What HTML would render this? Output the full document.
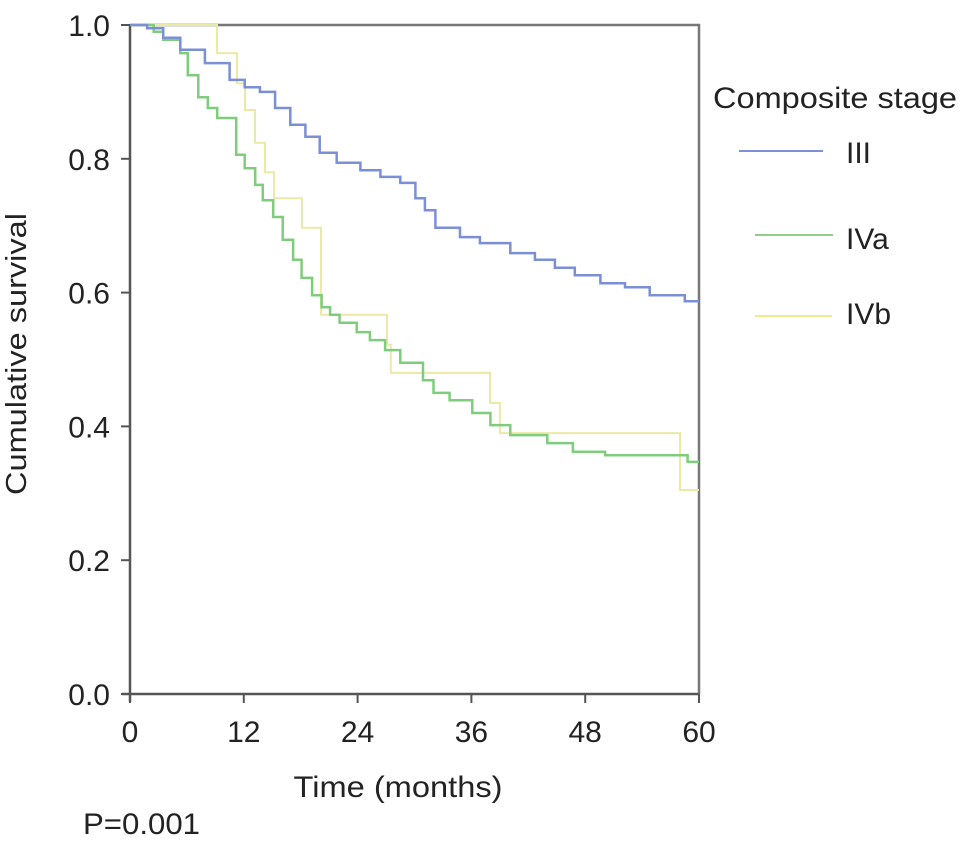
<!DOCTYPE html>
<html><head><meta charset="utf-8"><style>
html,body{margin:0;padding:0;background:#fff;}
svg{display:block;font-family:"Liberation Sans",Arial,sans-serif;}
</style></head><body>
<svg id="chart" width="969" height="845" viewBox="0 0 969 845">
<g id="axes"></g>
<g id="series"></g>
<text x="26" y="354" transform="rotate(-90 26 354)" text-anchor="middle" font-size="29" fill="#222" textLength="282" lengthAdjust="spacingAndGlyphs">Cumulative survival</text>
<text x="398" y="797" text-anchor="middle" font-size="30" fill="#222" textLength="209" lengthAdjust="spacingAndGlyphs">Time (months)</text>
<text x="83" y="834" font-size="30" fill="#222" textLength="117" lengthAdjust="spacingAndGlyphs">P=0.001</text>
<g>
<text x="713" y="108" font-size="30" fill="#222" textLength="244" lengthAdjust="spacingAndGlyphs">Composite stage</text>
<line x1="739" y1="151" x2="823" y2="151" stroke="#7d8fd8" stroke-width="2"/>
<text x="846" y="163" font-size="30" fill="#222">III</text>
<line x1="755" y1="235" x2="833" y2="235" stroke="#8fcf8a" stroke-width="2"/>
<text x="846" y="249" font-size="30" fill="#222">IVa</text>
<line x1="755" y1="316" x2="832" y2="316" stroke="#eeeb8a" stroke-width="2"/>
<text x="846" y="324" font-size="30" fill="#222">IVb</text>
</g>
</svg>
<script>
const xTicks = [0, 12, 24, 36, 48, 60];
const yTicks = [0.0, 0.2, 0.4, 0.6, 0.8, 1.0];
const timesIII = [1.8, 3.5, 5.3, 7.9, 10.5, 12.1, 13.7, 15.3, 16.9, 18.5, 20.0, 21.8, 24.3, 26.4, 28.5, 30.1, 31.1, 32.2, 34.8, 36.9, 40.1, 42.7, 44.8, 46.9, 49.6, 52.2, 54.8, 58.5];
const survIII = [0.995, 0.981, 0.963, 0.943, 0.918, 0.907, 0.900, 0.876, 0.851, 0.833, 0.809, 0.794, 0.783, 0.773, 0.764, 0.741, 0.723, 0.697, 0.683, 0.674, 0.659, 0.649, 0.637, 0.626, 0.614, 0.608, 0.596, 0.587];
const timesIVa = [2.5, 3.5, 5.3, 6.1, 7.2, 8.2, 9.2, 11.2, 12.1, 13.2, 14.0, 15.1, 16.1, 17.2, 18.1, 19.2, 20.2, 21.1, 22.1, 23.9, 25.3, 26.9, 28.5, 30.9, 32.0, 33.7, 36.1, 38.0, 40.1, 44.0, 46.7, 50.1, 58.8];
const survIVa = [0.99, 0.978, 0.958, 0.925, 0.892, 0.876, 0.861, 0.806, 0.786, 0.761, 0.738, 0.713, 0.679, 0.649, 0.622, 0.596, 0.578, 0.567, 0.555, 0.541, 0.529, 0.514, 0.495, 0.469, 0.450, 0.439, 0.420, 0.402, 0.387, 0.375, 0.362, 0.357, 0.347];
const timesIVb = [9.17, 11.28, 12.13, 13.18, 14.24, 15.19, 18.14, 20.14, 27.1, 27.5, 37.96, 39.0, 58.0];
const survIVb = [0.958, 0.913, 0.873, 0.824, 0.780, 0.741, 0.697, 0.567, 0.522, 0.480, 0.435, 0.390, 0.305];

const X0 = 130, X1 = 699, Y0 = 694, Y1 = 25;
const xs = t => X0 + (t / 60) * (X1 - X0);
const ys = s => Y0 - s * (Y0 - Y1);
const NS = 'http://www.w3.org/2000/svg';
const axes = document.getElementById('axes');
const series = document.getElementById('series');
function mk(tag, attrs, parent) {
  const el = document.createElementNS(NS, tag);
  for (const k in attrs) el.setAttribute(k, attrs[k]);
  parent.appendChild(el);
  return el;
}
let f = mk('path', {d: `M${X0},${Y1} H${X1} V${Y0}`, fill: 'none', stroke: '#777', 'stroke-width': 2.5}, axes);


let xa = mk('line', {x1: X0 - 8, y1: Y0, x2: X1, y2: Y0, stroke: '#555', 'stroke-width': 2.5}, axes);


let ya = mk('line', {x1: X0, y1: Y1, x2: X0, y2: Y0 + 8, stroke: '#555', 'stroke-width': 2.5}, axes);


xTicks.forEach(t => {
  const tk = mk('line', {x1: xs(t), y1: Y0, x2: xs(t), y2: Y0 + 9, stroke: '#555', 'stroke-width': 2}, axes);
  
  
  const lb = mk('text', {x: xs(t), y: 742, 'text-anchor': 'middle', 'font-size': 30, fill: '#222'}, axes);
  lb.textContent = String(t);
  
  
});
yTicks.forEach(v => {
  const tk = mk('line', {x1: X0 - 9, y1: ys(v), x2: X0, y2: ys(v), stroke: '#555', 'stroke-width': 2}, axes);
  
  
  const lb = mk('text', {x: 110, y: ys(v) + 11, 'text-anchor': 'end', 'font-size': 30, fill: '#222'}, axes);
  lb.textContent = v.toFixed(1);
  
  
});
function stepPath(times, surv) {
  let d = `M${xs(0)},${ys(1)}`;
  times.forEach((t, i) => {
    d += ` H${xs(t).toFixed(1)} V${ys(surv[i]).toFixed(1)}`;
  });
  d += ` H${xs(60)}`;
  return d;
}
let pb = mk('path', {d: stepPath(timesIVb, survIVb), fill: 'none', stroke: '#ece9a6', 'stroke-width': 2}, series);


let pa = mk('path', {d: stepPath(timesIVa, survIVa), fill: 'none', stroke: '#7fcd7c', 'stroke-width': 2.5}, series);


let p3 = mk('path', {d: stepPath(timesIII, survIII), fill: 'none', stroke: '#7b8fd6', 'stroke-width': 2.5}, series);


</script>
</body></html>
